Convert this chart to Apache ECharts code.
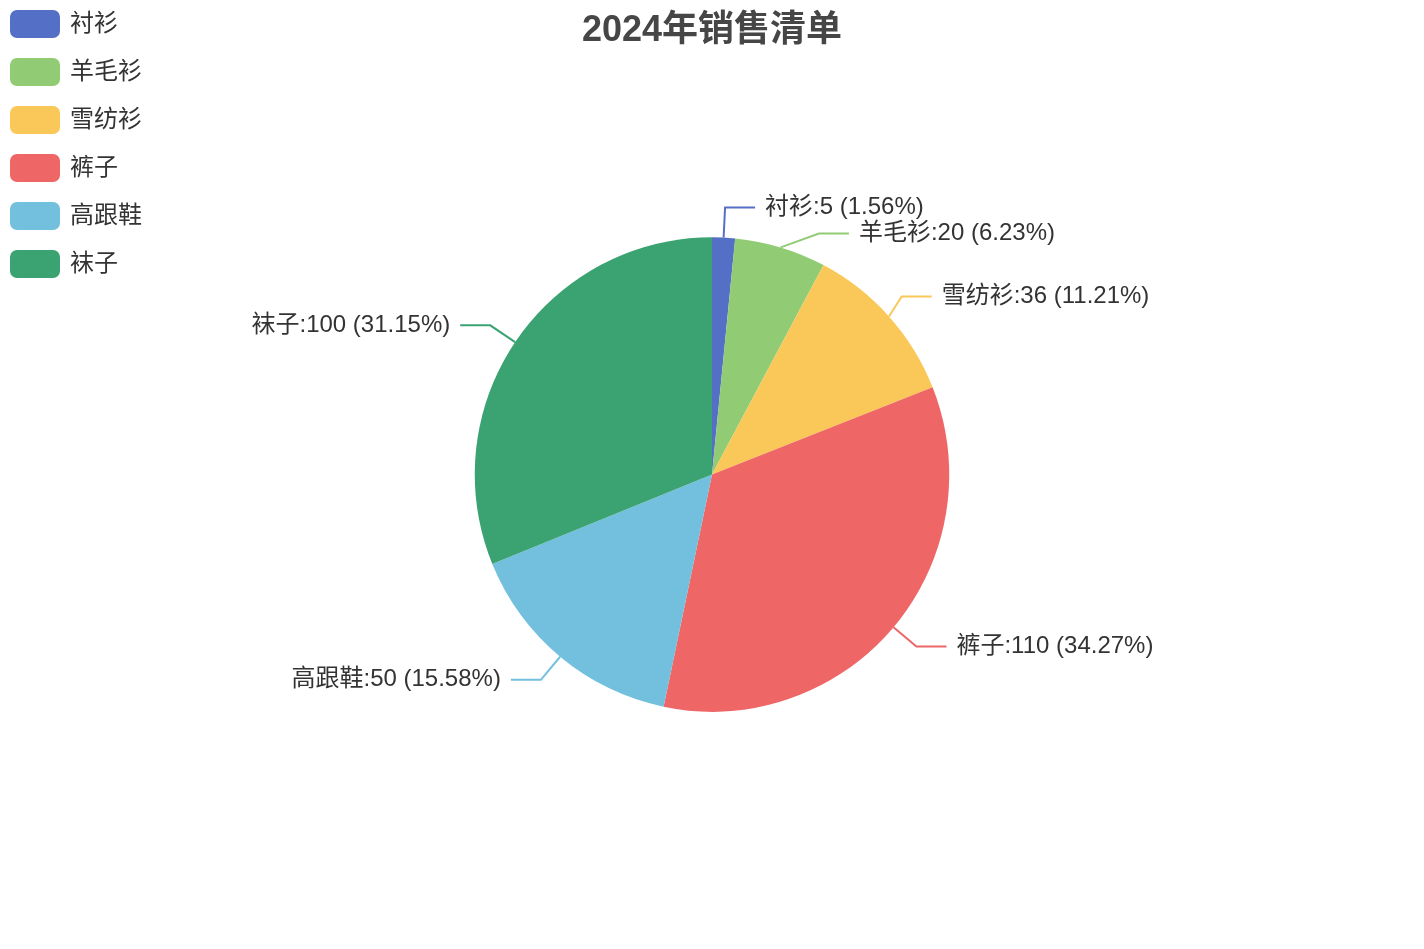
<!DOCTYPE html>
<html lang="zh-CN">
<head>
    <meta charset="UTF-8">
    <title>2024年销售清单</title>
    <script src="https://cdn.jsdelivr.net/npm/echarts@6/dist/echarts.min.js"></script>
    <style>
        html, body { margin: 0; padding: 0; background: #fff; }
        #main { width: 1424px; height: 949px; }
    </style>
</head>
<body>
    <div id="main"></div>
    <script>
    // 数据
    const categories = ['衬衫', '羊毛衫', '雪纺衫', '裤子', '高跟鞋', '袜子'];
    const sales = [5, 20, 36, 110, 50, 100];
    const colors = ['#5470c6', '#91cc75', '#fac858', '#ee6666', '#73c0de', '#3ba272'];

    const fontStack = '"Liberation Sans", "Noto Sans CJK SC", sans-serif';

    const chart = echarts.init(document.getElementById('main'));
    chart.setOption({
        color: colors,
        textStyle: { fontFamily: fontStack },
        title: {
            text: '2024年销售清单',
            left: 'center',
            top: 8,
            textStyle: { fontSize: 36, fontWeight: 'bold', color: '#464646', fontFamily: fontStack }
        },
        legend: {
            orient: 'vertical',
            left: 5,
            top: 5,
            itemWidth: 50,
            itemHeight: 28,
            itemGap: 20,
            textStyle: { fontSize: 24, color: '#333', fontFamily: fontStack, padding: [0, 0, 0, 5] },
            data: categories
        },
        series: [{
            name: '销售',
            type: 'pie',
            radius: '50%',
            center: ['50%', '50%'],
            label: {
                formatter: '{b}:{c} ({d}%)',
                fontSize: 24,
                color: '#333',
                fontFamily: fontStack,
                distanceToLabelLine: 10
            },
            labelLine: { length: 30, length2: 30, lineStyle: { width: 2 } },
            data: categories.map((name, i) => ({ name: name, value: sales[i] }))
        }]
    });
    </script>
</body>
</html>
